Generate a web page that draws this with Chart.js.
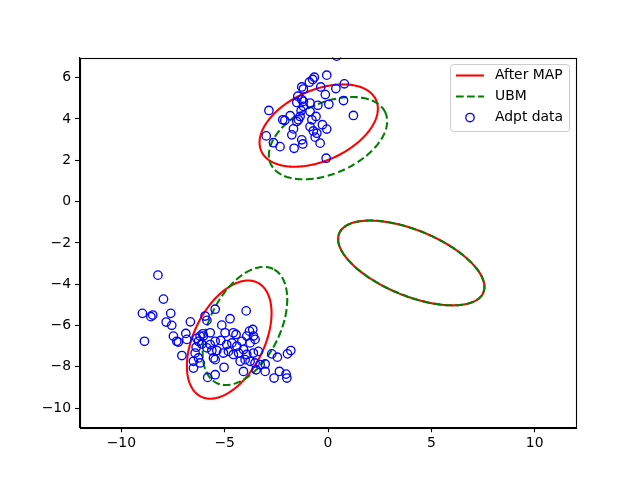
<!DOCTYPE html>
<html>
<head>
<meta charset="utf-8">
<script src="https://cdn.jsdelivr.net/npm/chart.js@4.4.1/dist/chart.umd.min.js"></script>
<style>
  html, body { margin: 0; padding: 0; background: #fff; }
  canvas { display: block; }
</style>
</head>
<body>
<canvas id="chart" width="640" height="480"></canvas>
<script>
// axis ticks and limits
const xTicks = [-10, -5, 0, 5, 10];
const yTicks = [-10, -8, -6, -4, -2, 0, 2, 4, 6];
const xLim = [-12, 12];
const yLim = [-10.92, 6.97];

// ellipse parameters (centre x, centre y, semi-major, semi-minor, angle in degrees)
const mapCx = [-0.45, 4.03, -4.78];
const mapCy = [3.68, -2.97, -6.68];
const ubmCx = [0.0, 4.03, -4.02];
const ubmCy = [3.07, -2.97, -6.02];
const semiA = [3.04, 3.77, 3.08];
const semiB = [1.71, 1.59, 1.70];
const angles = [24, -22.3, 63.6];

// adaptation data points
const adptX = [
  0.42, -0.06, -0.66, -0.74, -0.9, -1.27, -1.19, -0.35, 0.79, 0.38, -0.13, -1.46, -1.27, -1.19, -1.51, -0.87,
  0.04, 0.75, -0.49, -1.19, -2.86, 1.23, -1.30, -0.87, -0.58, -1.83, -1.35, -2.19, -2.09, -1.51, -1.43, -0.78,
  -0.87, -0.27, -1.67, -0.06, -0.71, -0.54, -1.75, -2.99, -0.62, -2.64, -1.27, -1.22, -0.38, -2.32, -1.64, -0.09,
  -8.23, -7.96, -8.98, -8.57, -8.48, -7.61, -7.83, -7.56, -6.66, -8.88, -7.48, -7.32, -7.24, -6.88, -6.83, -7.07,
  -6.51, -6.43, -6.51, -6.27, -6.19, -5.95, -5.86, -6.35, -6.19, -6.06, -6.27, -6.11, -6.38, -5.70, -5.62, -5.54,
  -5.46, -5.82, -5.46,
  -3.96, -5.14, -4.74, -4.98, -4.58, -4.45, -3.80, -3.64, -3.61, -3.53, -3.93, -5.19, -5.38, -4.90, -4.65, -4.41,
  -4.17, -3.77, -5.06, -4.82, -4.58, -4.33, -4.09, -3.93, -3.61, -3.37, -5.46, -4.25, -4.01, -3.77, -3.53, -5.03,
  -4.09, -3.48, -3.28, -3.04, -5.46, -2.72, -2.45, -1.96, -1.80, -2.35, -2.03, -1.99, -2.61, -3.04, -5.70, -6.03,
  -5.86
];
const adptY = [
  7.04, 6.12, 6.02, 5.91, 5.78, 5.55, 5.45, 5.55, 5.70, 5.47, 5.18, 5.10, 4.93, 4.85, 4.80, 4.77,
  4.71, 4.89, 4.66, 4.61, 4.41, 4.17, 4.40, 4.36, 4.12, 4.16, 4.12, 3.96, 3.93, 3.88, 3.96, 3.96,
  3.63, 3.72, 3.52, 3.51, 3.42, 3.31, 3.23, 3.18, 3.12, 2.85, 2.99, 2.79, 2.83, 2.66, 2.58, 2.10,
  -3.56, -4.72, -5.41, -5.57, -5.49, -5.41, -5.83, -5.99, -5.82, -6.76, -6.51, -6.76, -6.80, -6.38, -6.67, -7.45,
  -7.73, -7.33, -8.06, -7.57, -7.81, -5.54, -5.75, -6.62, -6.51, -6.40, -6.76, -6.89, -7.05, -6.92, -7.21, -7.57,
  -5.21, -8.51, -6.76,
  -5.29, -5.98, -5.67, -6.35, -6.35, -6.43, -6.27, -6.19, -6.51, -6.67, -6.51, -6.72, -7.21, -6.92, -6.84, -7.00,
  -6.76, -6.84, -7.33, -7.25, -7.40, -7.33, -7.16, -7.40, -7.33, -7.25, -7.65, -7.73, -7.65, -7.73, -7.81, -8.02,
  -8.22, -8.14, -7.89, -8.22, -8.38, -7.37, -7.53, -7.37, -7.21, -8.22, -8.35, -8.54, -8.54, -7.86, -6.35, -6.51,
  -7.08
];

const RED = '#ff0000';
const GREEN = '#008000';
const BLUE = '#0000ff';
const LW = 2.08;
const DASH = [7.7, 3.3];
const MARKER_LW = 1.35;

// outline of an ellipse from its parameters (a little overlap so the seam closes)
function ellipseOutline(cx, cy, a, b, deg) {
  const t = deg * Math.PI / 180;
  const pts = [];
  for (let i = 0; i <= 182; i++) {
    const u = i / 180 * 2 * Math.PI;
    const ex = a * Math.cos(u), ey = b * Math.sin(u);
    pts.push({ x: cx + ex * Math.cos(t) - ey * Math.sin(t), y: cy + ex * Math.sin(t) + ey * Math.cos(t) });
  }
  return pts;
}

const datasets = [];
datasets.push({
  label: 'Adpt data',
  data: adptX.map((x, i) => ({ x: x, y: adptY[i] })),
  pointRadius: 4.2,
  pointBorderWidth: MARKER_LW,
  pointBorderColor: BLUE,
  pointBackgroundColor: 'rgba(0,0,0,0)',
  showLine: false,
  clip: 0,
  order: 1
});
for (let i = 0; i < semiA.length; i++) {
  datasets.push({
    label: 'UBM',
    data: ellipseOutline(ubmCx[i], ubmCy[i], semiA[i], semiB[i], angles[i]),
    showLine: true, pointRadius: 0, borderColor: GREEN, borderWidth: LW,
    borderDash: DASH, fill: false, tension: 0.001, order: 2
  });
}
for (let i = 0; i < semiA.length; i++) {
  // tiny tension keeps Chart.js off its fast path, which squashes vertical runs
  datasets.push({
    label: 'After MAP',
    data: ellipseOutline(mapCx[i], mapCy[i], semiA[i], semiB[i], angles[i]),
    showLine: true, pointRadius: 0, borderColor: RED, borderWidth: LW,
    fill: false, tension: 0.001, order: 3
  });
}

const tickFont = { family: 'DejaVu Sans', size: 13.9 };
const minus = v => String(v).replace('-', '\u2212');

// full frame + legend box in the upper right corner
const frameAndLegend = {
  id: 'frameAndLegend',
  afterDraw(chart) {
    const ctx = chart.ctx;
    const ca = chart.chartArea;
    ctx.save();
    ctx.strokeStyle = '#000';
    ctx.lineWidth = 1.1;
    ctx.strokeRect(Math.round(ca.left) + 0.5, Math.round(ca.top) + 0.5,
      Math.round(ca.right - ca.left), Math.round(ca.bottom - ca.top));

    const bx = 450.5, by = 64.5, bw = 119, bh = 67, r = 3;
    ctx.beginPath();
    ctx.moveTo(bx + r, by);
    ctx.arcTo(bx + bw, by, bx + bw, by + bh, r);
    ctx.arcTo(bx + bw, by + bh, bx, by + bh, r);
    ctx.arcTo(bx, by + bh, bx, by, r);
    ctx.arcTo(bx, by, bx + bw, by, r);
    ctx.closePath();
    ctx.fillStyle = 'rgba(255,255,255,0.8)';
    ctx.fill();
    ctx.strokeStyle = '#cccccc';
    ctx.lineWidth = 1;
    ctx.stroke();

    ctx.lineWidth = LW;
    ctx.strokeStyle = RED;
    ctx.beginPath(); ctx.moveTo(456, 75.5); ctx.lineTo(484, 75.5); ctx.stroke();
    ctx.strokeStyle = GREEN;
    ctx.setLineDash(DASH);
    ctx.beginPath(); ctx.moveTo(456, 96.5); ctx.lineTo(484, 96.5); ctx.stroke();
    ctx.setLineDash([]);
    ctx.strokeStyle = BLUE;
    ctx.lineWidth = MARKER_LW;
    ctx.beginPath(); ctx.arc(470, 117.5, 4.2, 0, 2 * Math.PI); ctx.stroke();

    ctx.fillStyle = '#000';
    ctx.font = '13.9px "DejaVu Sans"';
    ctx.textBaseline = 'middle';
    ctx.fillText('After MAP', 495, 75.5);
    ctx.fillText('UBM', 495, 96.5);
    ctx.fillText('Adpt data', 495, 117.5);
    ctx.restore();
  }
};

new Chart(document.getElementById('chart'), {
  type: 'scatter',
  data: { datasets: datasets },
  options: {
    responsive: false,
    animation: false,
    devicePixelRatio: 1,
    layout: { padding: { left: 0, right: 64, top: 57.6, bottom: 0 } },
    plugins: { legend: { display: false }, tooltip: { enabled: false } },
    scales: {
      x: {
        type: 'linear', min: xLim[0], max: xLim[1],
        afterBuildTicks: s => { s.ticks = xTicks.map(v => ({ value: v })); },
        afterFit: s => { s.height = 52.8; },
        grid: { drawOnChartArea: false, drawTicks: true, tickLength: 5, tickColor: '#000', tickWidth: 1.1 },
        border: { display: true, color: '#000', width: 1.1 },
        ticks: { color: '#000', font: tickFont, padding: 3, maxRotation: 0, autoSkip: false, callback: minus }
      },
      y: {
        type: 'linear', min: yLim[0], max: yLim[1],
        afterBuildTicks: s => { s.ticks = yTicks.map(v => ({ value: v })); },
        afterFit: s => { s.width = 80; },
        grid: { drawOnChartArea: false, drawTicks: true, tickLength: 5, tickColor: '#000', tickWidth: 1.1 },
        border: { display: true, color: '#000', width: 1.1 },
        ticks: { color: '#000', font: tickFont, padding: 4, autoSkip: false, callback: minus }
      }
    }
  },
  plugins: [frameAndLegend]
});
</script>
</body>
</html>
